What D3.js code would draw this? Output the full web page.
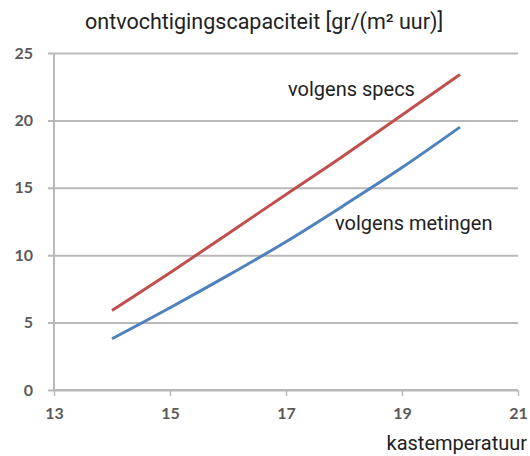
<!DOCTYPE html>
<html><head><meta charset="utf-8">
<script src="https://cdn.jsdelivr.net/npm/d3@7"></script>
<style>
html,body{margin:0;padding:0;background:#fff;}
svg{display:block;}
</style></head>
<body>
<svg id="chart" width="530" height="456"></svg>
<script>
const temps = [14, 15, 16, 17, 18, 19, 20];
const specs = [5.9, 8.7, 11.6, 14.5, 17.4, 20.4, 23.4];
const metingen = [3.8, 6.1, 8.5, 11.0, 13.7, 16.5, 19.5];
const xTicks = [13, 15, 17, 19, 21];
const yTicks = [0, 5, 10, 15, 20, 25];
const title = "ontvochtigingscapaciteit [gr/(m² uur)]";
const xLabel = "kastemperatuur";
const seriesNames = ["volgens specs", "volgens metingen"];

const svg = d3.select("#chart");
const x = d3.scaleLinear().domain([13, 21]).range([54, 518]);
const y = d3.scaleLinear().domain([0, 25]).range([390, 53]);

const grid = "#b9b9b9";
const tickFont = "Lato, 'Open Sans', sans-serif";
const yAxis = d3.axisLeft(y).tickValues(yTicks).tickSize(-(518 - 54));
const gy = svg.append("g").attr("transform", "translate(54,0)").call(yAxis);
gy.select(".domain").remove();
gy.selectAll(".tick line").attr("x1", -6).attr("stroke", grid).attr("stroke-width", 2);
gy.selectAll(".tick text").attr("font-family", tickFont).attr("font-weight", "bold")
  .attr("font-size", 16).attr("fill", "#5a5a5a").attr("x", -21);
svg.append("line").attr("x1", 54).attr("x2", 54).attr("y1", 53).attr("y2", 390).attr("stroke", grid).attr("stroke-width", 2);

const xAxis = d3.axisBottom(x).tickValues(xTicks).tickSize(6).tickPadding(12);
const gx = svg.append("g").attr("transform", "translate(0,390)").call(xAxis);
gx.select(".domain").attr("stroke", grid).attr("stroke-width", 2).attr("d", "M54,0H518");
gx.selectAll(".tick line").attr("stroke", grid).attr("stroke-width", 1.5);
gx.selectAll(".tick text").attr("font-family", tickFont).attr("font-weight", "bold")
  .attr("font-size", 16).attr("fill", "#5a5a5a");

const line = d3.line().x((d, i) => x(temps[i])).y(d => y(d)).curve(d3.curveCatmullRom);
svg.append("path").datum(specs).attr("d", line).attr("fill", "none").attr("stroke", "#c0504d").attr("stroke-width", 3);
svg.append("path").datum(metingen).attr("d", line).attr("fill", "none").attr("stroke", "#4f81bd").attr("stroke-width", 3);

const tf = "Roboto, 'Open Sans', sans-serif";
svg.append("text").attr("x", 85).attr("y", 29).attr("font-family", tf).attr("font-size", 21.5).attr("fill", "#222").text(title);
svg.append("text").attr("x", 527).attr("y", 450).attr("text-anchor", "end").attr("font-family", tf).attr("font-size", 20).attr("fill", "#222").text(xLabel);
svg.append("text").attr("x", 288).attr("y", 96).attr("font-family", tf).attr("font-size", 20).attr("fill", "#222").text(seriesNames[0]);
svg.append("text").attr("x", 335).attr("y", 230).attr("font-family", tf).attr("font-size", 20).attr("fill", "#222").text(seriesNames[1]);
</script>
</body></html>
